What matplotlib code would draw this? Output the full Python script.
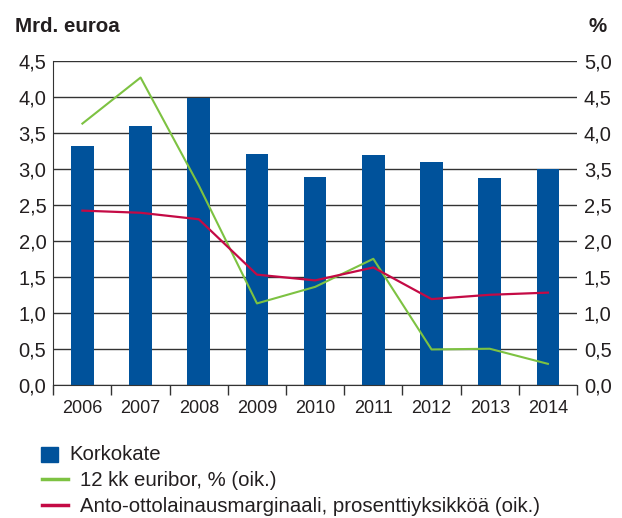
import matplotlib
matplotlib.use("Agg")
import matplotlib.pyplot as plt
from matplotlib.patches import Rectangle
from matplotlib.lines import Line2D
import numpy as np

years = ["2006", "2007", "2008", "2009", "2010", "2011", "2012", "2013", "2014"]
korkokate = [3.32, 3.59, 3.99, 3.21, 2.89, 3.20, 3.09, 2.87, 3.00]
euribor = [3.63, 4.27, 2.77, 1.13, 1.36, 1.75, 0.49, 0.50, 0.29]
marginaali = [2.42, 2.39, 2.30, 1.53, 1.45, 1.63, 1.19, 1.25, 1.28]
left_ticks = [0.0, 0.5, 1.0, 1.5, 2.0, 2.5, 3.0, 3.5, 4.0, 4.5]
left_labels = ["0,0", "0,5", "1,0", "1,5", "2,0", "2,5", "3,0", "3,5", "4,0", "4,5"]
right_labels = ["0,0", "0,5", "1,0", "1,5", "2,0", "2,5", "3,5", "4,0", "4,5", "5,0"]

BLUE = "#00529B"
GREEN = "#7DC242"
RED = "#C40A45"
TXT = "#231F20"
SANS = ["Liberation Sans", "DejaVu Sans"]

W, H = 622, 518
fig = plt.figure(figsize=(W / 100, H / 100), dpi=100)
ax = fig.add_axes([53.3 / W, 1 - 384.7 / H, 523.7 / W, 323.7 / H])

x = np.arange(len(years))
ax.bar(x, korkokate, width=0.39, color=BLUE, zorder=2)
ax.set_xlim(-0.5, len(years) - 0.5)
ax.set_ylim(0, 4.5)
ax.set_yticks(left_ticks)
ax.set_yticklabels(left_labels, family=SANS, fontsize=14.5, color=TXT)
ax.tick_params(axis="y", length=0, pad=5)
ax.yaxis.grid(True, color="#333333", linewidth=1.0, zorder=0)
ax.set_axisbelow(True)
ax.set_xticks(x)
ax.set_xticklabels(years, family=SANS, fontsize=13, color=TXT)
ax.tick_params(axis="x", which="major", length=0, pad=11)
ax.set_xticks(np.arange(-0.5, len(years)), minor=True)
ax.tick_params(axis="x", which="minor", length=7.2, width=1.0, color="#333333", direction="out")
for s in ["top", "right"]:
    ax.spines[s].set_visible(False)
ax.spines["left"].set_color("#333333")
ax.spines["bottom"].set_color("#333333")

ax2 = ax.twinx()
ax2.set_ylim(0, 4.5)
ax2.plot(x, euribor, color=GREEN, linewidth=1.5, zorder=3)
ax2.plot(x, marginaali, color=RED, linewidth=1.6, zorder=4)
ax2.set_yticks(left_ticks)
ax2.set_yticklabels(right_labels, family=SANS, fontsize=14.5, color=TXT)
ax2.tick_params(axis="y", length=0, pad=5)
for s in ["top", "right", "left", "bottom"]:
    ax2.spines[s].set_visible(False)

fig.text(15 / W, 1 - 32 / H, "Mrd. euroa", family=SANS, fontweight="bold",
         fontsize=14.8, color=TXT, ha="left", va="baseline")
fig.text(607 / W, 1 - 32 / H, "%", family=SANS, fontweight="bold",
         fontsize=14.8, color=TXT, ha="right", va="baseline")

# legend
fig.patches.append(Rectangle((41 / W, 1 - 462 / H), 17 / W, 15 / H,
                             transform=fig.transFigure, color=BLUE))
fig.text(69 / W, 1 - 455 / H, "Korkokate", family=SANS, fontsize=14.7,
         color=TXT, ha="left", va="center")
fig.lines.append(Line2D([42 / W, 68 / W], [1 - 479 / H, 1 - 479 / H],
                        transform=fig.transFigure, color=GREEN, linewidth=2.5))
fig.text(80 / W, 1 - 480 / H, "12 kk euribor, % (oik.)", family=SANS, fontsize=14.7,
         color=TXT, ha="left", va="center")
fig.lines.append(Line2D([42 / W, 68 / W], [1 - 505 / H, 1 - 505 / H],
                        transform=fig.transFigure, color=RED, linewidth=2.5))
fig.text(80 / W, 1 - 506 / H, "Anto-ottolainausmarginaali, prosenttiyksikköä (oik.)",
         family=SANS, fontsize=14.7, color=TXT, ha="left", va="center")

fig.savefig("out.png", dpi=100)
